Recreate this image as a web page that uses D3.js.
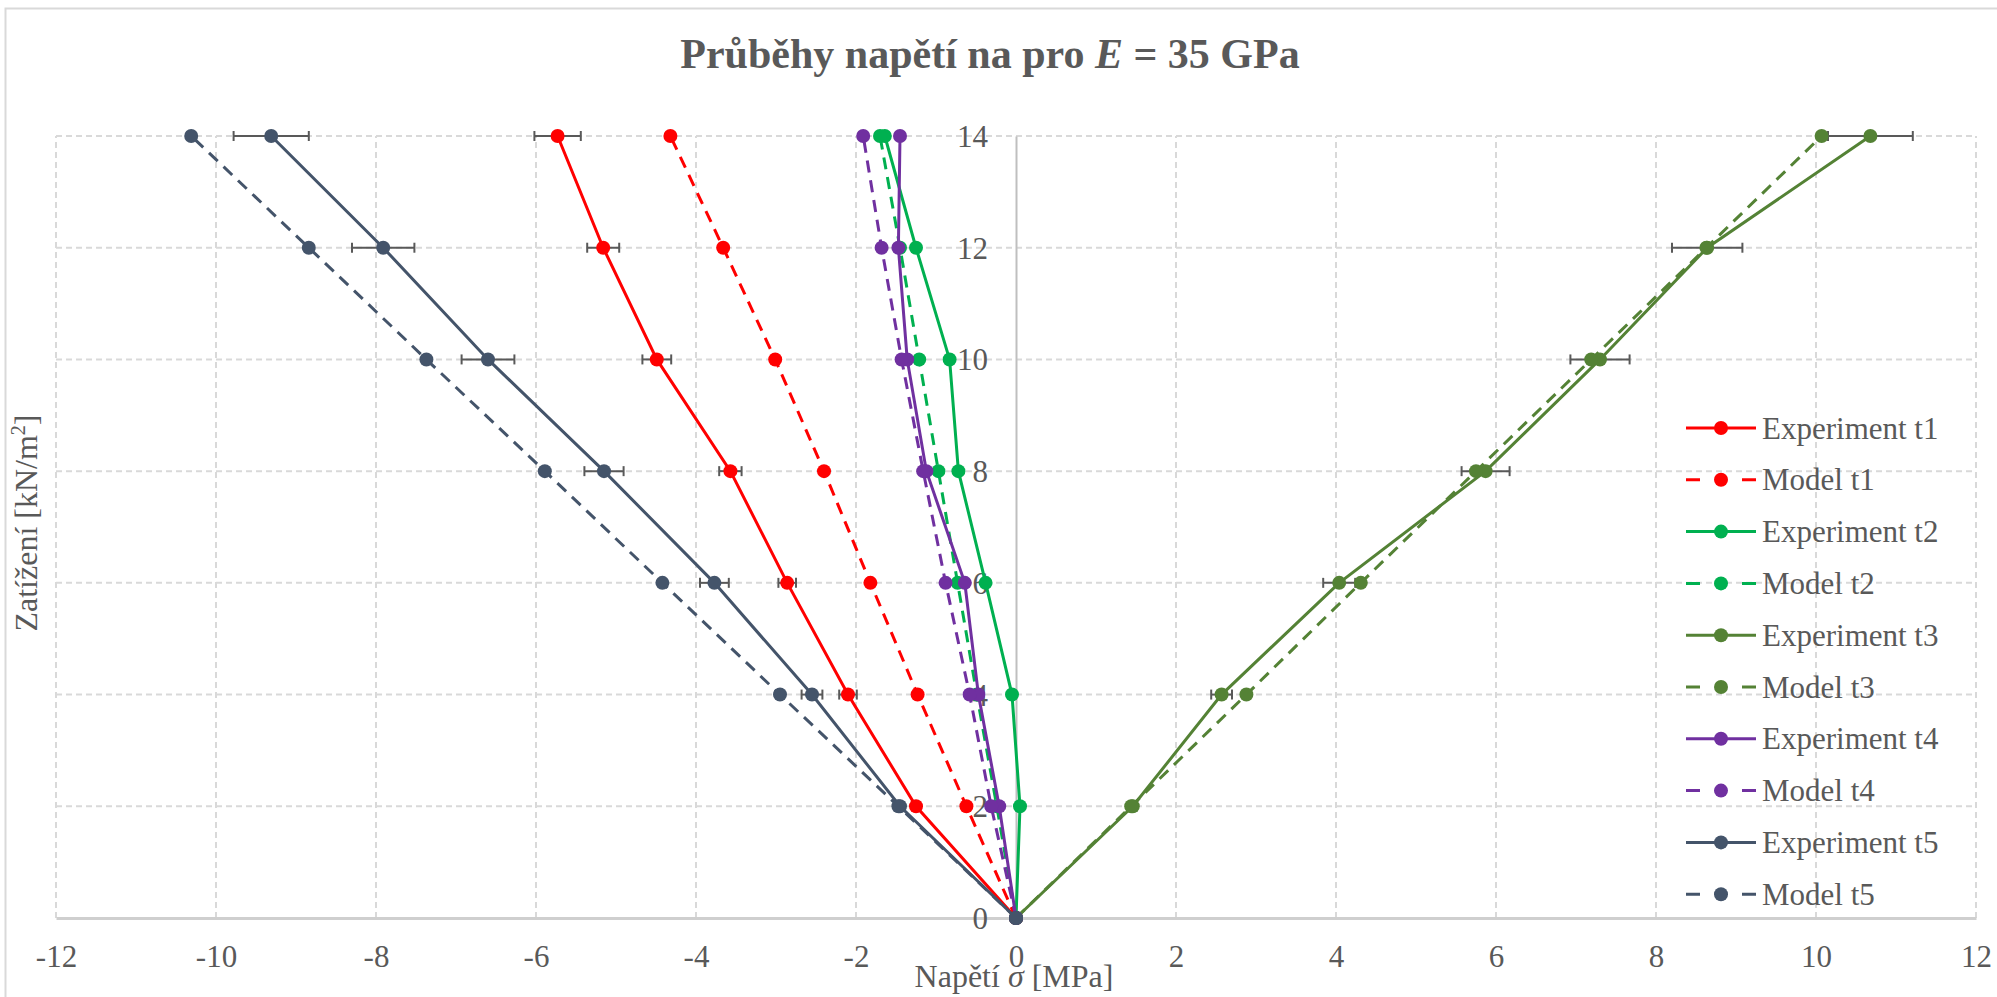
<!DOCTYPE html>
<html>
<head>
<meta charset="utf-8">
<script src="https://cdn.jsdelivr.net/npm/d3@7/dist/d3.min.js"></script>
<style>
  html, body { margin: 0; padding: 0; background: #ffffff; }
  svg { display: block; }
  text { font-family: "Liberation Serif", "Times New Roman", serif; fill: #595959; }
</style>
</head>
<body>
<svg id="chart" width="1997" height="997"></svg>
<script>
// ---- Data ----
const loads = [0, 2, 4, 6, 8, 10, 12, 14];
const xTicks = [-12, -10, -8, -6, -4, -2, 0, 2, 4, 6, 8, 10, 12];
const yTicks = [0, 2, 4, 6, 8, 10, 12, 14];

const expT1   = [0, -1.25, -2.10, -2.86, -3.57, -4.49, -5.16, -5.73];
const errT1   = [0, 0.05, 0.11, 0.11, 0.14, 0.18, 0.20, 0.29];
const modelT1 = [0, -0.62, -1.23, -1.82, -2.40, -3.01, -3.66, -4.32];
const expT2   = [0, 0.05, -0.05, -0.38, -0.72, -0.83, -1.25, -1.64];
const modelT2 = [0, -0.24, -0.49, -0.73, -0.97, -1.21, -1.45, -1.70];
const expT3   = [0, 1.46, 2.57, 4.04, 5.87, 7.30, 8.64, 10.68];
const errT3   = [0, 0.05, 0.13, 0.20, 0.30, 0.37, 0.44, 0.53];
const modelT3 = [0, 1.44, 2.88, 4.31, 5.75, 7.19, 8.63, 10.07];
const expT4   = [0, -0.21, -0.47, -0.64, -1.12, -1.36, -1.47, -1.45];
const modelT4 = [0, -0.31, -0.58, -0.88, -1.16, -1.43, -1.68, -1.91];
const expT5   = [0, -1.45, -2.55, -3.77, -5.15, -6.60, -7.91, -9.31];
const errT5   = [0, 0.05, 0.13, 0.18, 0.245, 0.33, 0.39, 0.47];
const modelT5 = [0, -1.47, -2.95, -4.42, -5.89, -7.37, -8.84, -10.31];

const seriesNames = ["Experiment t1", "Model t1", "Experiment t2", "Model t2", "Experiment t3",
                     "Model t3", "Experiment t4", "Model t4", "Experiment t5", "Model t5"];
const seriesValues = [expT1, modelT1, expT2, modelT2, expT3, modelT3, expT4, modelT4, expT5, modelT5];
const seriesErrors = [errT1, null, null, null, errT3, null, null, null, errT5, null];
const seriesColors = ["#FF0000", "#FF0000", "#00B050", "#00B050", "#548235",
                      "#548235", "#7030A0", "#7030A0", "#44546A", "#44546A"];
const seriesDashed = [false, true, false, true, false, true, false, true, false, true];

// ---- Layout ----
const svg = d3.select("#chart");
const plot = { left: 56, right: 1976, top: 136, bottom: 918 };
const x = d3.scaleLinear().domain([-12, 12]).range([plot.left, plot.right]);
const y = d3.scaleLinear().domain([0, 14]).range([plot.bottom, plot.top]);

// chart border
svg.append("rect").attr("x", 5.5).attr("y", 8.5).attr("width", 2100).attr("height", 1100)
  .attr("fill", "none").attr("stroke", "#D9D9D9").attr("stroke-width", 2);

// title
const title = svg.append("text").attr("x", 990).attr("y", 68).attr("text-anchor", "middle")
  .attr("font-size", 42).attr("font-weight", "bold");
title.append("tspan").text("Průběhy napětí na pro ");
title.append("tspan").attr("font-style", "italic").text("E");
title.append("tspan").text(" = 35 GPa");

// gridlines
const grid = svg.append("g");
grid.selectAll("line.v").data(xTicks.filter(d => d !== 0)).join("line")
  .attr("x1", d => x(d)).attr("x2", d => x(d)).attr("y1", y(0)).attr("y2", y(14))
  .attr("stroke", "#D9D9D9").attr("stroke-width", 2).attr("stroke-dasharray", "6,4");
grid.selectAll("line.h").data(yTicks.filter(d => d !== 0)).join("line")
  .attr("x1", x(-12)).attr("x2", x(12)).attr("y1", d => y(d)).attr("y2", d => y(d))
  .attr("stroke", "#D9D9D9").attr("stroke-width", 2).attr("stroke-dasharray", "6,4");

// axes (using d3 axis generators, then restyle)
const xAxis = svg.append("g").attr("transform", `translate(0,${y(0)})`)
  .call(d3.axisBottom(x).tickValues(xTicks).tickSize(0).tickPadding(0).tickFormat(d => d < 0 ? "-" + Math.abs(d) : d));
xAxis.select(".domain").attr("stroke", "#CFCFCF").attr("stroke-width", 3);
xAxis.selectAll(".tick text").attr("font-size", 31).attr("dy", null).attr("y", 49)
  .attr("font-family", "Liberation Serif, Times New Roman, serif").attr("fill", "#595959");

const yAxis = svg.append("g").attr("transform", `translate(${x(0)},0)`)
  .call(d3.axisLeft(y).tickValues(yTicks).tickSize(0).tickPadding(0));
yAxis.select(".domain").attr("stroke", "#BFBFBF").attr("stroke-width", 2);
yAxis.selectAll(".tick text").attr("font-size", 31).attr("x", -28).attr("dy", "0.34em")
  .attr("font-family", "Liberation Serif, Times New Roman, serif").attr("fill", "#595959");

// axis titles
const xt = svg.append("text").attr("x", 1014).attr("y", 987).attr("text-anchor", "middle").attr("font-size", 32);
xt.append("tspan").text("Napětí ");
xt.append("tspan").attr("font-style", "italic").text("σ");
xt.append("tspan").text(" [MPa]");

const yt = svg.append("text").attr("transform", "translate(37,523) rotate(-90)")
  .attr("text-anchor", "middle").attr("font-size", 32);
yt.append("tspan").text("Zatížení [kN/m");
yt.append("tspan").attr("font-size", 20).attr("dy", -12).text("2");
yt.append("tspan").attr("dy", 12).text("]");

// series
const line = d3.line().x(d => x(d.v)).y(d => y(d.load));
seriesValues.forEach((vals, i) => {
  const pts = vals.map((v, k) => ({ v, load: loads[k], e: seriesErrors[i] ? seriesErrors[i][k] : 0 }));
  const g = svg.append("g");
  g.append("path").datum(pts).attr("d", line).attr("fill", "none")
    .attr("stroke", seriesColors[i]).attr("stroke-width", 3)
    .attr("stroke-dasharray", seriesDashed[i] ? "12,8" : null);
  if (seriesErrors[i]) {
    const eb = g.append("g").selectAll("g").data(pts.filter(p => p.e > 0)).join("g");
    eb.append("line").attr("x1", p => x(p.v - p.e)).attr("x2", p => x(p.v + p.e))
      .attr("y1", p => y(p.load)).attr("y2", p => y(p.load)).attr("stroke", "#595959").attr("stroke-width", 2);
    eb.append("line").attr("x1", p => x(p.v - p.e)).attr("x2", p => x(p.v - p.e))
      .attr("y1", p => y(p.load) - 5).attr("y2", p => y(p.load) + 5).attr("stroke", "#595959").attr("stroke-width", 2);
    eb.append("line").attr("x1", p => x(p.v + p.e)).attr("x2", p => x(p.v + p.e))
      .attr("y1", p => y(p.load) - 5).attr("y2", p => y(p.load) + 5).attr("stroke", "#595959").attr("stroke-width", 2);
  }
  g.selectAll("circle").data(pts).join("circle")
    .attr("cx", p => x(p.v)).attr("cy", p => y(p.load)).attr("r", 7).attr("fill", seriesColors[i]);
});

// legend
const legend = svg.append("g");
seriesNames.forEach((name, i) => {
  const ly = 428 + i * 51.8;
  const lg = legend.append("g");
  lg.append("line").attr("x1", 1686).attr("x2", 1756).attr("y1", ly).attr("y2", ly)
    .attr("stroke", seriesColors[i]).attr("stroke-width", 3)
    .attr("stroke-dasharray", seriesDashed[i] ? "14,42" : null);
  lg.append("circle").attr("cx", 1721).attr("cy", ly).attr("r", 7).attr("fill", seriesColors[i]);
  lg.append("text").attr("x", 1762).attr("y", ly + 10.6).attr("font-size", 31).text(name);
});
</script>
</body>
</html>
